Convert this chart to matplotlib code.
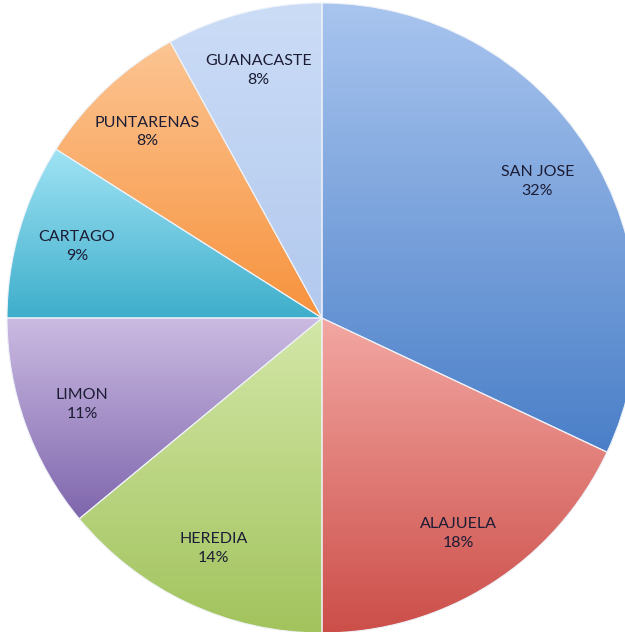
import matplotlib.pyplot as plt
import numpy as np
from matplotlib.colors import to_rgb

# provinces and share of total (%)
provinces = ["SAN JOSE", "ALAJUELA", "HEREDIA", "LIMON", "CARTAGO", "PUNTARENAS", "GUANACASTE"]
shares = [32, 18, 14, 11, 9, 8, 8]

# Excel-like gradients, (top colour, bottom colour) per slice
gradients = [
    ("#a9c5ef", "#4a7fc8"),
    ("#f3a7a2", "#cc4e49"),
    ("#d3e7a8", "#a2c35d"),
    ("#cbbbe2", "#7f66ad"),
    ("#a0e3f4", "#3eaecb"),
    ("#fcc593", "#f7923d"),
    ("#cbdcf6", "#b2c9ee"),
]

fig = plt.figure(figsize=(6.25, 6.32), dpi=100)
ax = fig.add_axes([0, 0, 1, 1])

wedges, _ = ax.pie(shares, startangle=90, counterclock=False, radius=1,
                   wedgeprops=dict(edgecolor="#eef2f8", linewidth=0.8, zorder=3))

for w, (top, bottom) in zip(wedges, gradients):
    bb = w.get_path().get_extents()
    t = np.linspace(0, 1, 256)[:, None]
    c0, c1 = np.array(to_rgb(top)), np.array(to_rgb(bottom))
    grad = (c0 * (1 - t) + c1 * t)[:, None, :]
    im = ax.imshow(grad, extent=(bb.x0, bb.x1, bb.y0, bb.y1), origin="upper",
                   aspect="auto", interpolation="bilinear", zorder=2)
    im.set_clip_path(w)
    w.set_facecolor("none")

# labels inside the slices
for w, name, pct in zip(wedges, provinces, shares):
    ang = np.deg2rad((w.theta1 + w.theta2) / 2)
    ax.text(0.81 * np.cos(ang), 0.81 * np.sin(ang), f"{name}\n{pct}%",
            ha="center", va="center", fontsize=11.5, family="Lato",
            color="#1c1c34", linespacing=1.45, zorder=5)

ax.set_xlim(-322 / 315, (625 - 322) / 315)
ax.set_ylim(-(632 - 318) / 315, 318 / 315)
ax.set_aspect("equal")
ax.axis("off")

fig.savefig("out.png", dpi=100)
